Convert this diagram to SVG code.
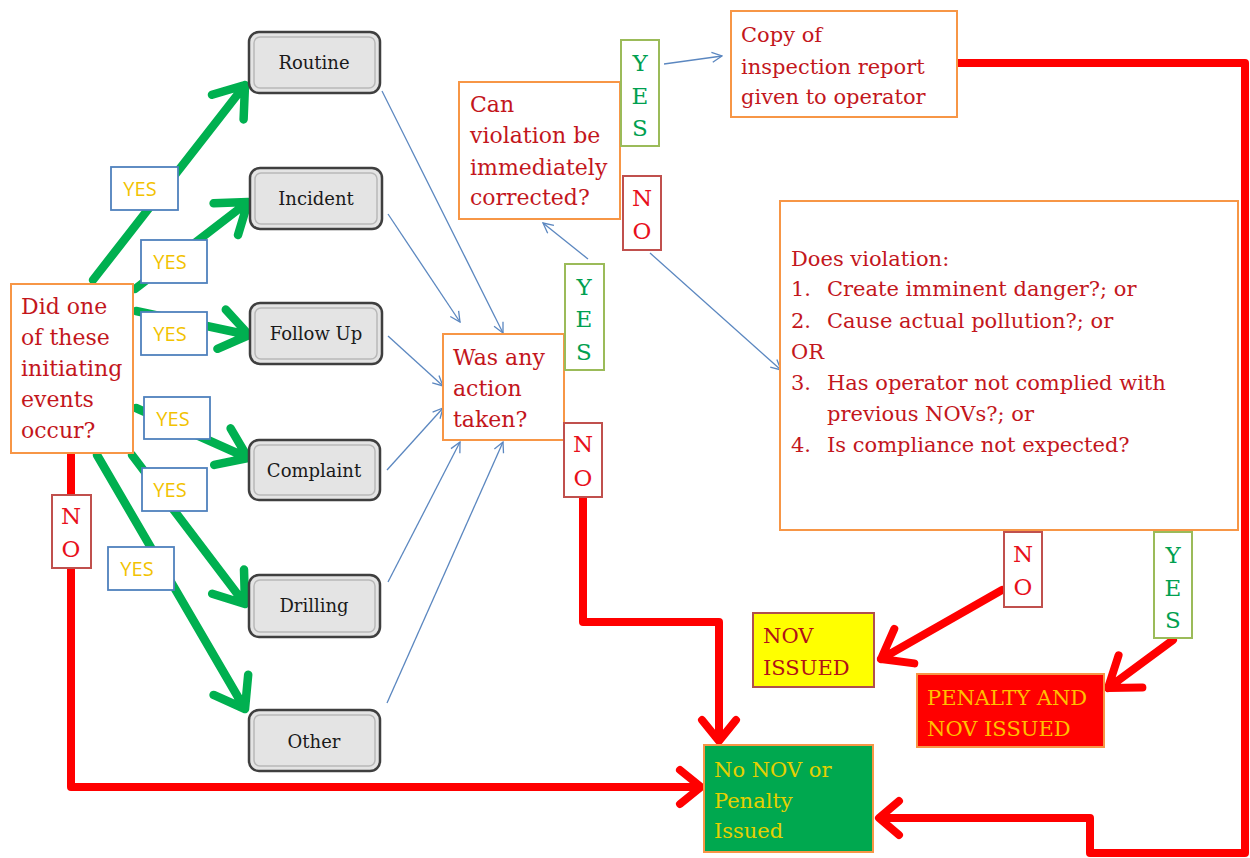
<svg xmlns="http://www.w3.org/2000/svg" width="1250" height="858" viewBox="0 0 1250 858">
<defs>
<style>
.q{fill:#fff;stroke:#f79646;stroke-width:2}
.qt{font-family:"DejaVu Serif","Liberation Serif",serif;font-size:21px;fill:#c3161c}
.qb{font-size:22px}
.ev{fill:#e4e4e4;stroke:#3f3f3f;stroke-width:2.5}
.evi{fill:none;stroke:#b8b8b8;stroke-width:1.5}
.et{font-family:"DejaVu Serif","Liberation Serif",serif;font-size:18px;fill:#1a1a1a;text-anchor:middle}
.yb{fill:#fff;stroke:#4f81bd;stroke-width:1.8}
.yt{font-family:"Open Sans","Liberation Sans",sans-serif;font-size:20px;fill:#f2c200;text-anchor:middle}
.gb{fill:#fff;stroke:#9bbb59;stroke-width:2}
.gt{font-family:"DejaVu Serif","Liberation Serif",serif;font-size:23px;fill:#00a050;text-anchor:middle}
.rb{fill:#fff;stroke:#c0504d;stroke-width:2}
.rt{font-family:"DejaVu Serif","Liberation Serif",serif;font-size:23px;fill:#e8101c;text-anchor:middle}
.gl{fill:none;stroke:#00b050;stroke-width:8.5;stroke-linecap:round;stroke-linejoin:round}
.rl{fill:none;stroke:#ff0000;stroke-width:8;stroke-linecap:round;stroke-linejoin:round}
.bl{fill:none;stroke:#5b87c0;stroke-width:1.3;marker-end:url(#bh)}
.ot{font-family:"DejaVu Serif","Liberation Serif",serif;font-size:21px}
</style>
<marker id="bh" viewBox="0 0 12 12" refX="11" refY="6" markerWidth="12" markerHeight="12" markerUnits="userSpaceOnUse" orient="auto">
<path d="M1,1 L11,6 L1,11" fill="none" stroke="#5b87c0" stroke-width="1.3"/>
</marker>
</defs>
<rect width="1250" height="858" fill="#fff"/>

<g id="connectors">
<path class="gl" d="M93,280 L245,85 M212,94.8 L245,85 L243.6,119.4"/>
<path class="gl" d="M135,289 L248,202 M213.6,203.3 L248,202 L238,234.9"/>
<path class="gl" d="M136,311 L249,335 M225.8,309.6 L249,335 L217.4,348.8"/>
<path class="gl" d="M136,408 L248,458 M230.6,428.3 L248,458 L214.2,464.9"/>
<path class="gl" d="M132,455 L245,604 M244,569.6 L245,604 L212.2,593.8"/>
<path class="gl" d="M97,455 L245,709 M248.2,674.7 L245,709 L213.6,694.9"/>
<path class="rl" d="M71,453 V787 H700 M680,770 L701,787 L680,804"/>
<path class="rl" d="M583,497 V622 H719 V740 M702,720 L719,741 L736,720"/>
<path class="rl" d="M957,63 H1245 V853 H1090 V818 H880 M899,801 L879,818 L899,835"/>
<path class="rl" d="M1002,590 L881,659 M894.3,628.8 L881,659 L914.3,663.4"/>
<path class="rl" d="M1173,640 L1108,688 M1118.6,655.3 L1108,688 L1142.4,687.5"/>
<path class="bl" d="M382,91 L503,333"/>
<path class="bl" d="M388,214 L460,322"/>
<path class="bl" d="M388,336 L443,386"/>
<path class="bl" d="M387,470 L443,408"/>
<path class="bl" d="M388,582 L460,442"/>
<path class="bl" d="M387,703 L503,442"/>
<path class="bl" d="M588,259 L543,223"/>
<path class="bl" d="M664,64 L722,56"/>
<path class="bl" d="M650,253 L781,370"/>
</g>

<g id="q-initiating">
<rect class="q" x="11" y="284" width="122" height="169"/>
<text class="qt qb" x="21" y="314">Did one</text>
<text class="qt qb" x="21" y="345">of these</text>
<text class="qt qb" x="21" y="376">initiating</text>
<text class="qt qb" x="21" y="407">events</text>
<text class="qt qb" x="21" y="438">occur?</text>
</g>

<g id="ev-routine"><rect class="ev" x="249" y="32" width="131" height="61" rx="10"/><rect class="evi" x="254" y="37" width="121" height="51" rx="6"/><text class="et" x="314" y="69">Routine</text></g>
<g id="ev-incident"><rect class="ev" x="250" y="168" width="132" height="61" rx="10"/><rect class="evi" x="255" y="173" width="122" height="51" rx="6"/><text class="et" x="316" y="205">Incident</text></g>
<g id="ev-followup"><rect class="ev" x="250" y="303" width="132" height="61" rx="10"/><rect class="evi" x="255" y="308" width="122" height="51" rx="6"/><text class="et" x="316" y="340">Follow Up</text></g>
<g id="ev-complaint"><rect class="ev" x="249" y="440" width="131" height="60" rx="10"/><rect class="evi" x="254" y="445" width="121" height="50" rx="6"/><text class="et" x="314" y="477">Complaint</text></g>
<g id="ev-drilling"><rect class="ev" x="249" y="575" width="131" height="62" rx="10"/><rect class="evi" x="254" y="580" width="121" height="52" rx="6"/><text class="et" x="314" y="612">Drilling</text></g>
<g id="ev-other"><rect class="ev" x="249" y="710" width="131" height="61" rx="10"/><rect class="evi" x="254" y="715" width="121" height="51" rx="6"/><text class="et" x="314" y="748">Other</text></g>

<g id="yes-1"><rect class="yb" x="111" y="167" width="67" height="43"/><text class="yt" x="140" y="196">YES</text></g>
<g id="yes-2"><rect class="yb" x="141" y="240" width="66" height="43"/><text class="yt" x="170" y="269">YES</text></g>
<g id="yes-3"><rect class="yb" x="141" y="312" width="66" height="43"/><text class="yt" x="170" y="341">YES</text></g>
<g id="yes-4"><rect class="yb" x="144" y="397" width="66" height="42"/><text class="yt" x="173" y="426">YES</text></g>
<g id="yes-5"><rect class="yb" x="142" y="468" width="65" height="43"/><text class="yt" x="170" y="497">YES</text></g>
<g id="yes-6"><rect class="yb" x="108" y="547" width="66" height="43"/><text class="yt" x="137" y="576">YES</text></g>

<g id="no-left"><rect class="rb" x="52" y="495" width="39" height="73"/><text class="rt" x="71" y="524">N</text><text class="rt" x="71" y="557">O</text></g>

<g id="q-action">
<rect class="q" x="443" y="334" width="121" height="106"/>
<text class="qt qb" x="453" y="365">Was any</text>
<text class="qt qb" x="453" y="396">action</text>
<text class="qt qb" x="453" y="427">taken?</text>
</g>
<g id="yes-action"><rect class="gb" x="565" y="264" width="39" height="106"/><text class="gt" x="584" y="295">Y</text><text class="gt" x="584" y="327">E</text><text class="gt" x="584" y="360">S</text></g>
<g id="no-action"><rect class="rb" x="564" y="423" width="38" height="74"/><text class="rt" x="583" y="452">N</text><text class="rt" x="583" y="486">O</text></g>

<g id="q-correct">
<rect class="q" x="459" y="82" width="161" height="137"/>
<text class="qt qb" x="470" y="112">Can</text>
<text class="qt qb" x="470" y="143">violation be</text>
<text class="qt qb" x="470" y="175">immediately</text>
<text class="qt qb" x="470" y="205">corrected?</text>
</g>
<g id="yes-correct"><rect class="gb" x="621" y="40" width="38" height="106"/><text class="gt" x="640" y="71">Y</text><text class="gt" x="640" y="104">E</text><text class="gt" x="640" y="136">S</text></g>
<g id="no-correct"><rect class="rb" x="623" y="176" width="38" height="74"/><text class="rt" x="642" y="206">N</text><text class="rt" x="642" y="239">O</text></g>

<g id="copy-report">
<rect class="q" x="731" y="11" width="226" height="106"/>
<text class="qt" x="741" y="42">Copy of</text>
<text class="qt" x="741" y="74">inspection report</text>
<text class="qt" x="741" y="104">given to operator</text>
</g>

<g id="q-violation">
<rect class="q" x="780" y="201" width="458" height="329"/>
<text class="qt" x="791" y="266">Does violation:</text>
<text class="qt" x="791" y="296">1.</text><text class="qt" x="827" y="296">Create imminent danger?; or</text>
<text class="qt" x="791" y="328">2.</text><text class="qt" x="827" y="328">Cause actual pollution?; or</text>
<text class="qt" x="791" y="359">OR</text>
<text class="qt" x="791" y="390">3.</text><text class="qt" x="827" y="390">Has operator not complied with</text>
<text class="qt" x="827" y="421">previous NOVs?; or</text>
<text class="qt" x="791" y="452">4.</text><text class="qt" x="827" y="452">Is compliance not expected?</text>
</g>
<g id="no-violation"><rect class="rb" x="1004" y="532" width="38" height="75"/><text class="rt" x="1023" y="562">N</text><text class="rt" x="1023" y="595">O</text></g>
<g id="yes-violation"><rect class="gb" x="1154" y="532" width="38" height="106"/><text class="gt" x="1173" y="563">Y</text><text class="gt" x="1173" y="596">E</text><text class="gt" x="1173" y="628">S</text></g>

<g id="nov-issued">
<rect x="753" y="613" width="121" height="74" fill="#ffff00" stroke="#b0504d" stroke-width="2"/>
<text class="ot" x="763" y="643" fill="#b01018">NOV</text>
<text class="ot" x="763" y="675" fill="#b01018">ISSUED</text>
</g>
<g id="penalty-nov">
<rect x="917" y="674" width="187" height="73" fill="#ff0000" stroke="#f79646" stroke-width="2"/>
<text class="ot" x="927" y="705" fill="#ffc000">PENALTY AND</text>
<text class="ot" x="927" y="736" fill="#ffc000">NOV  ISSUED</text>
</g>
<g id="no-nov-penalty">
<rect x="704" y="745" width="169" height="107" fill="#00a84f" stroke="#f79646" stroke-width="2"/>
<text class="ot" x="714" y="777" fill="#e6d000">No NOV or</text>
<text class="ot" x="714" y="808" fill="#e6d000">Penalty</text>
<text class="ot" x="714" y="838" fill="#e6d000">Issued</text>
</g>
</svg>
